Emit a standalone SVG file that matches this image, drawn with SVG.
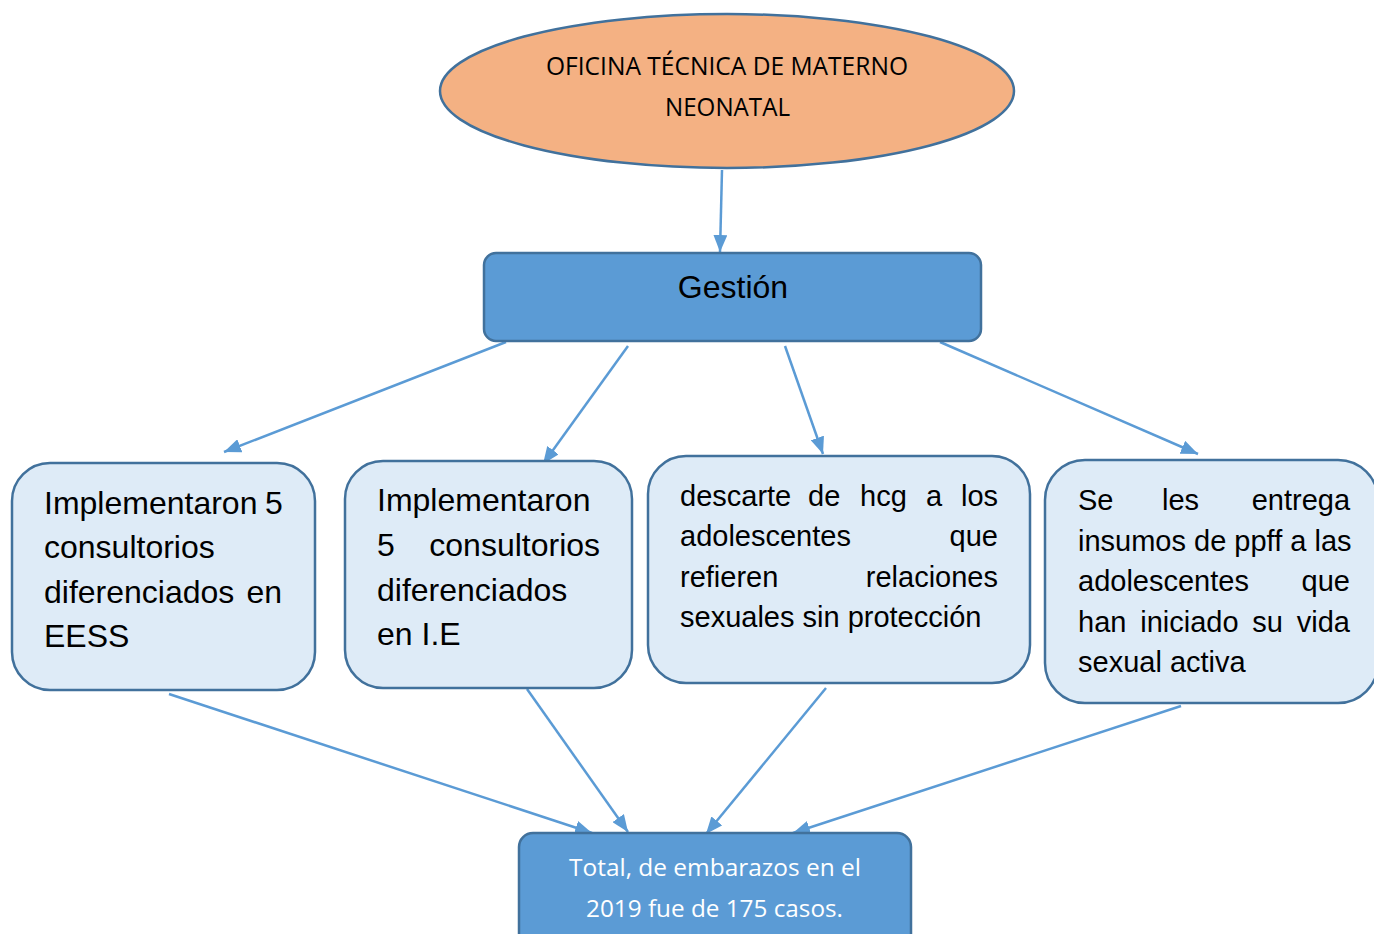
<svg xmlns="http://www.w3.org/2000/svg" width="1374" height="934" viewBox="0 0 1374 934">
<style>
.conn{stroke:#5B9BD5;stroke-width:2.5;fill:none;marker-end:url(#ah)}
.dark{fill:#5B9BD5;stroke:#41719C;stroke-width:2.5}
.light{fill:#DEEBF7;stroke:#41719C;stroke-width:2.5}
.cal{font-family:"Open Sans","Liberation Sans",sans-serif;text-anchor:middle}
.ar{font-family:"Liberation Sans",Arial,sans-serif;fill:#000}
.big{font-size:32px}
.mid{font-size:29px}
</style>
<defs>
<marker id="ah" markerUnits="userSpaceOnUse" markerWidth="17" markerHeight="14" refX="17" refY="7" orient="auto">
<path d="M0,0 L17,7 L0,14 z" fill="#5B9BD5"/>
</marker>
</defs>
<rect width="1374" height="934" fill="#fff"/>
<g id="connectors">
<line class="conn" x1="722" y1="170" x2="720" y2="252"/>
<line class="conn" x1="506" y1="342" x2="224" y2="452"/>
<line class="conn" x1="628" y1="346" x2="543" y2="464"/>
<line class="conn" x1="785" y1="346" x2="823" y2="454"/>
<line class="conn" x1="940" y1="342" x2="1198" y2="454"/>
<line class="conn" x1="169" y1="694" x2="592" y2="833"/>
<line class="conn" x1="527" y1="689" x2="628" y2="832"/>
<line class="conn" x1="826" y1="688" x2="706" y2="834"/>
<line class="conn" x1="1181" y1="706" x2="793" y2="833"/>
</g>
<g id="oficina">
<ellipse cx="727" cy="91" rx="287" ry="77" fill="#F4B183" stroke="#41719C" stroke-width="2.5"/>
<text class="cal" x="727" y="75" font-size="25" textLength="362" lengthAdjust="spacingAndGlyphs">OFICINA TÉCNICA DE MATERNO</text>
<text class="cal" x="727.5" y="116" font-size="25" textLength="125" lengthAdjust="spacingAndGlyphs">NEONATAL</text>
</g>
<g id="gestion">
<rect class="dark" x="484" y="253" width="497" height="88" rx="12"/>
<text class="ar big" x="733" y="298" text-anchor="middle">Gestión</text>
</g>
<g id="box1">
<rect class="light" x="12" y="463" width="303" height="227" rx="38"/>
<text class="ar big"><tspan x="44" y="514">Implementaron</tspan><tspan x="265" y="514">5</tspan><tspan x="44" y="558">consultorios</tspan><tspan x="44" y="603">diferenciados</tspan><tspan x="246.4" y="603">en</tspan><tspan x="44" y="647">EESS</tspan></text>
</g>
<g id="box2">
<rect class="light" x="345" y="461" width="287" height="227" rx="38"/>
<text class="ar big"><tspan x="377" y="511">Implementaron</tspan><tspan x="377" y="556">5</tspan><tspan x="429.3" y="556">consultorios</tspan><tspan x="377" y="601">diferenciados</tspan><tspan x="377" y="645">en I.E</tspan></text>
</g>
<g id="box3">
<rect class="light" x="648" y="456" width="382" height="227" rx="38"/>
<text class="ar mid"><tspan x="680" y="506">descarte</tspan><tspan x="808" y="506">de</tspan><tspan x="860" y="506">hcg</tspan><tspan x="926" y="506">a</tspan><tspan x="961" y="506">los</tspan><tspan x="680" y="546">adolescentes</tspan><tspan x="949.6" y="546">que</tspan><tspan x="680" y="587">refieren</tspan><tspan x="865.8" y="587">relaciones</tspan><tspan x="680" y="627">sexuales sin protección</tspan></text>
</g>
<g id="box4">
<rect class="light" x="1045" y="460" width="333" height="243" rx="40"/>
<text class="ar mid"><tspan x="1078" y="510">Se</tspan><tspan x="1162" y="510">les</tspan><tspan x="1251.7" y="510">entrega</tspan><tspan x="1078" y="551">insumos de ppff a las</tspan><tspan x="1078" y="591">adolescentes</tspan><tspan x="1301.6" y="591">que</tspan><tspan x="1078" y="632">han</tspan><tspan x="1140.2" y="632">iniciado</tspan><tspan x="1252.3" y="632">su</tspan><tspan x="1296.7" y="632">vida</tspan><tspan x="1078" y="672">sexual activa</tspan></text>
</g>
<g id="total">
<rect class="dark" x="519" y="833" width="392" height="120" rx="14"/>
<text class="cal" x="715" y="876" font-size="23" fill="#fff" textLength="292" lengthAdjust="spacingAndGlyphs">Total, de embarazos en el</text>
<text class="cal" x="714.5" y="917" font-size="23" fill="#fff" textLength="257" lengthAdjust="spacingAndGlyphs">2019 fue de 175 casos.</text>
</g>
</svg>
